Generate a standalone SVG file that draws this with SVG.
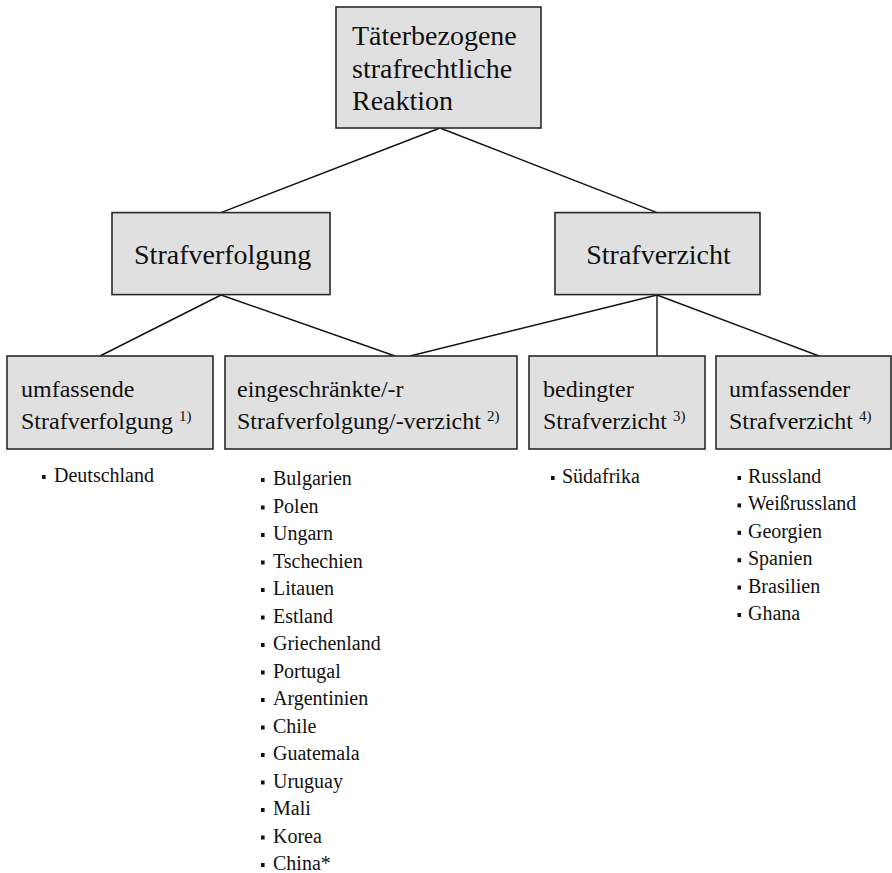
<svg xmlns="http://www.w3.org/2000/svg" width="892" height="873" viewBox="0 0 892 873">
<style>
.box{fill:#e0e0e0;stroke:#2a2a2a;stroke-width:1.6}
text{font-family:'Liberation Serif',Tinos,'Times New Roman','DejaVu Serif',serif;fill:#111}
.t{font-size:28px}
.t2{font-size:24px}
.sup{font-size:15px}
.li{font-size:20px}
.b{fill:#111}
.c{stroke:#111;stroke-width:1.4;fill:none}
</style>
<rect width="892" height="873" fill="#fff"/>
<g id="connectors">
<line class="c" x1="440" y1="128" x2="221" y2="212.6"/>
<line class="c" x1="440" y1="128" x2="657" y2="212.6"/>
<line class="c" x1="221" y1="295" x2="100" y2="356"/>
<line class="c" x1="221" y1="295" x2="395" y2="356"/>
<line class="c" x1="657" y1="295" x2="410" y2="356"/>
<line class="c" x1="657" y1="295" x2="657" y2="356"/>
<line class="c" x1="657" y1="295" x2="819" y2="356"/>
</g>
<g id="n-root">
<rect class="box" x="336" y="7" width="205" height="121"/>
<text class="t" x="352" y="45">Täterbezogene</text>
<text class="t" x="352" y="78">strafrechtliche</text>
<text class="t" x="352" y="110">Reaktion</text>
</g>
<g id="n-strafverfolgung">
<rect class="box" x="112" y="212.6" width="218" height="82"/>
<text class="t" x="222.7" y="264" text-anchor="middle">Strafverfolgung</text>
</g>
<g id="n-strafverzicht">
<rect class="box" x="555" y="212.6" width="205" height="82"/>
<text class="t" x="658.5" y="264" text-anchor="middle">Strafverzicht</text>
</g>
<g id="n-umfassende">
<rect class="box" x="7" y="356" width="206" height="93"/>
<text class="t2" x="21" y="397">umfassende</text>
<text class="t2" x="21" y="429">Strafverfolgung <tspan class="sup" dy="-8">1)</tspan></text>
</g>
<g id="n-eingeschraenkt">
<rect class="box" x="225" y="356" width="292" height="93"/>
<text class="t2" x="237" y="397">eingeschränkte/-r</text>
<text class="t2" x="237" y="429">Strafverfolgung/-verzicht <tspan class="sup" dy="-8">2)</tspan></text>
</g>
<g id="n-bedingter">
<rect class="box" x="529" y="356" width="176" height="93"/>
<text class="t2" x="543" y="397">bedingter</text>
<text class="t2" x="543" y="429">Strafverzicht <tspan class="sup" dy="-8">3)</tspan></text>
</g>
<g id="n-umfassender">
<rect class="box" x="716" y="356" width="175" height="93"/>
<text class="t2" x="729" y="397">umfassender</text>
<text class="t2" x="729" y="429">Strafverzicht <tspan class="sup" dy="-8">4)</tspan></text>
</g>
<g id="list-1">
<rect class="b" x="42" y="475" width="3.6" height="4"/>
<text class="li" x="54" y="482">Deutschland</text>
</g>
<g id="list-2">
<rect class="b" x="261" y="478" width="3.6" height="4"/><text class="li" x="273" y="485">Bulgarien</text>
<rect class="b" x="261" y="505.5" width="3.6" height="4"/><text class="li" x="273" y="512.5">Polen</text>
<rect class="b" x="261" y="533" width="3.6" height="4"/><text class="li" x="273" y="540">Ungarn</text>
<rect class="b" x="261" y="560.5" width="3.6" height="4"/><text class="li" x="273" y="567.5">Tschechien</text>
<rect class="b" x="261" y="588" width="3.6" height="4"/><text class="li" x="273" y="595">Litauen</text>
<rect class="b" x="261" y="615.5" width="3.6" height="4"/><text class="li" x="273" y="622.5">Estland</text>
<rect class="b" x="261" y="643" width="3.6" height="4"/><text class="li" x="273" y="650">Griechenland</text>
<rect class="b" x="261" y="670.5" width="3.6" height="4"/><text class="li" x="273" y="677.5">Portugal</text>
<rect class="b" x="261" y="698" width="3.6" height="4"/><text class="li" x="273" y="705">Argentinien</text>
<rect class="b" x="261" y="725.5" width="3.6" height="4"/><text class="li" x="273" y="732.5">Chile</text>
<rect class="b" x="261" y="753" width="3.6" height="4"/><text class="li" x="273" y="760">Guatemala</text>
<rect class="b" x="261" y="780.5" width="3.6" height="4"/><text class="li" x="273" y="787.5">Uruguay</text>
<rect class="b" x="261" y="808" width="3.6" height="4"/><text class="li" x="273" y="815">Mali</text>
<rect class="b" x="261" y="835.5" width="3.6" height="4"/><text class="li" x="273" y="842.5">Korea</text>
<rect class="b" x="261" y="863" width="3.6" height="4"/><text class="li" x="273" y="870">China*</text>
</g>
<g id="list-3">
<rect class="b" x="551" y="476" width="3.6" height="4"/>
<text class="li" x="562" y="483">Südafrika</text>
</g>
<g id="list-4">
<rect class="b" x="737.5" y="476" width="3.6" height="4"/><text class="li" x="748" y="483">Russland</text>
<rect class="b" x="737.5" y="503.4" width="3.6" height="4"/><text class="li" x="748" y="510.4">Weißrussland</text>
<rect class="b" x="737.5" y="530.8" width="3.6" height="4"/><text class="li" x="748" y="537.8">Georgien</text>
<rect class="b" x="737.5" y="558.2" width="3.6" height="4"/><text class="li" x="748" y="565.2">Spanien</text>
<rect class="b" x="737.5" y="585.6" width="3.6" height="4"/><text class="li" x="748" y="592.6">Brasilien</text>
<rect class="b" x="737.5" y="613" width="3.6" height="4"/><text class="li" x="748" y="620">Ghana</text>
</g>
</svg>
